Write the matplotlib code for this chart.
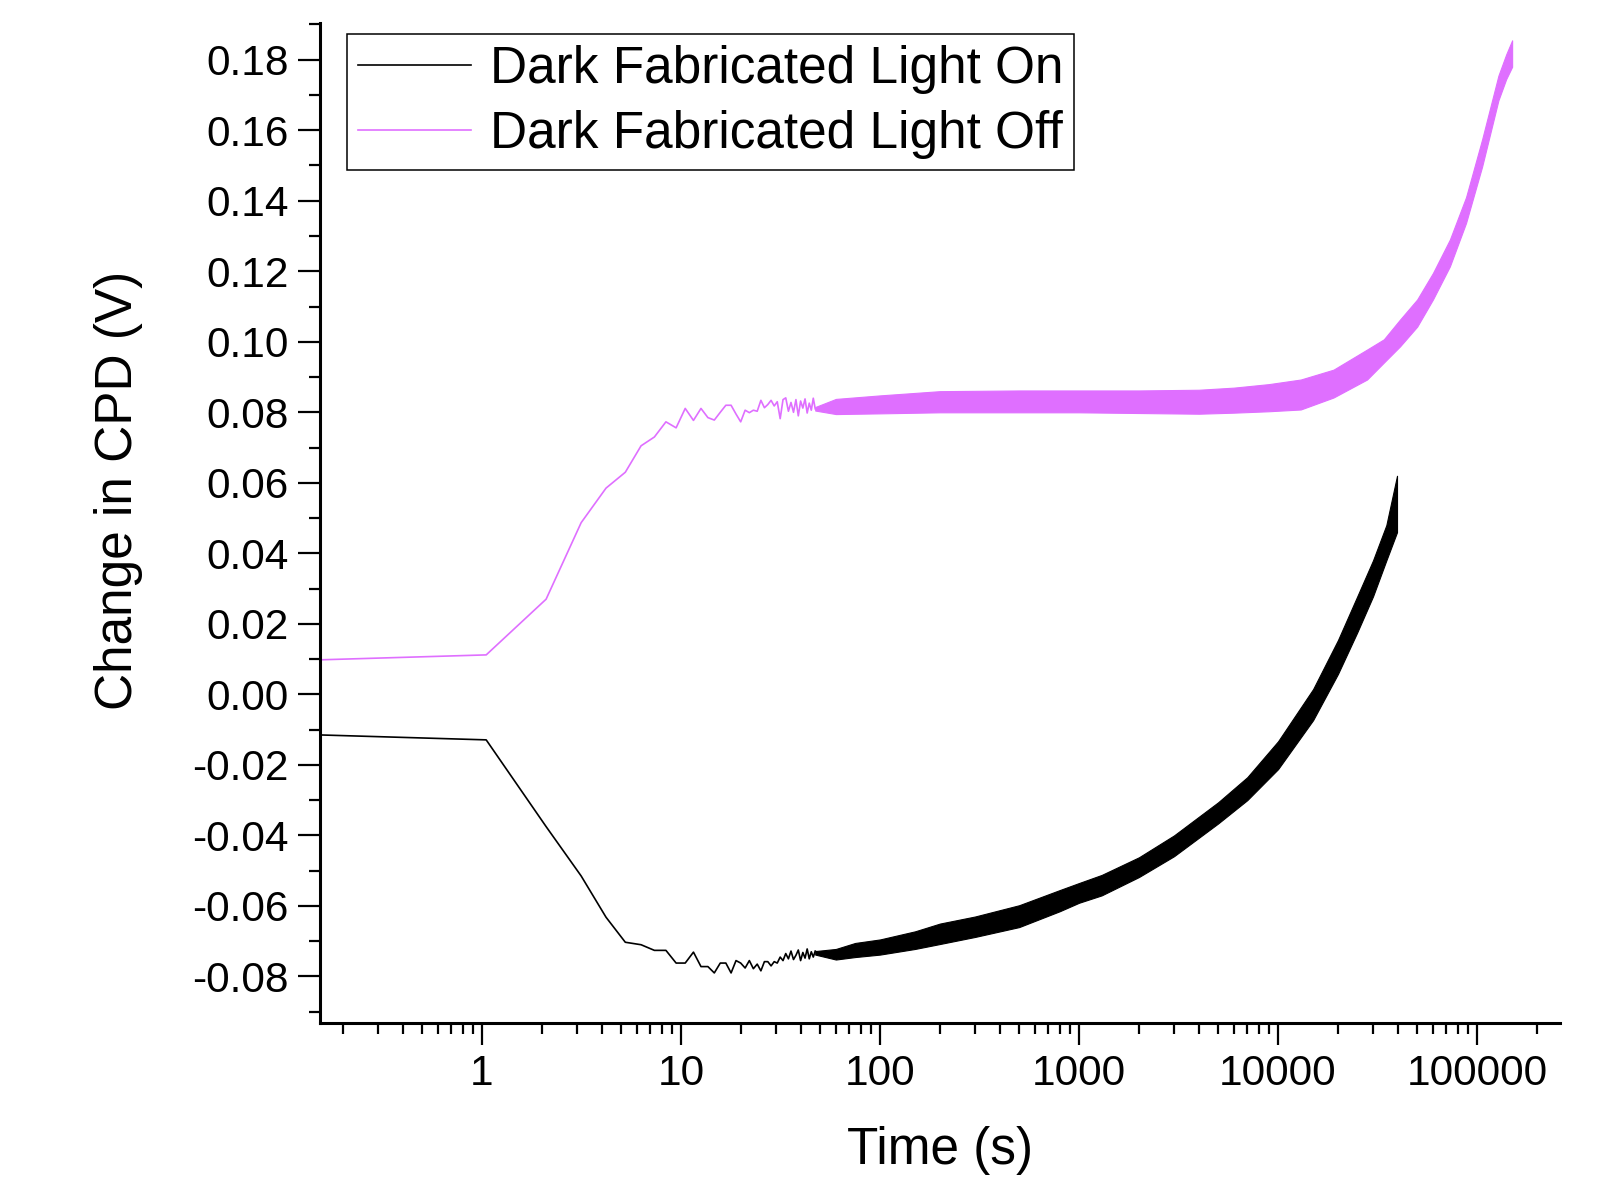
import matplotlib
matplotlib.use("Agg")
import matplotlib.pyplot as plt
from matplotlib.ticker import FixedLocator, MultipleLocator, FormatStrFormatter, LogLocator, NullFormatter, FuncFormatter

plt.rcParams['font.family'] = ['Liberation Sans', 'DejaVu Sans']

# ---------------- data ----------------
labels = ["Dark Fabricated Light On", "Dark Fabricated Light Off"]
colors = ["#000000", "#DF6FFF"]

# sparse early samples (s)
early_time = [0.1535, 1.05, 2.1, 3.15, 4.2, 5.25, 6.3, 7.35, 8.4, 9.45, 10.5,
              11.55, 12.6, 13.65, 14.7, 15.75, 16.8, 17.85, 18.9, 19.95, 21.0,
              22.05, 23.1, 24.15, 25.2, 26.25, 27.3, 28.35, 29.4, 30.45, 31.5,
              32.55, 33.6, 34.65, 35.7, 36.75, 37.8, 38.85, 39.9, 40.95, 42.0,
              43.05, 44.1, 45.15, 46.2, 47.25]

on_early = [-0.0115, -0.0129, -0.0375, -0.0515, -0.0632, -0.0703, -0.0710, -0.0726,
            -0.0726, -0.0762, -0.0762, -0.0731, -0.0772, -0.0772, -0.0790, -0.0762,
            -0.0762, -0.0790, -0.0755, -0.0762, -0.0776, -0.0755, -0.0778, -0.0765,
            -0.0784, -0.0758, -0.0758, -0.0770, -0.0758, -0.0762, -0.0745, -0.0755,
            -0.0735, -0.0750, -0.0728, -0.0752, -0.0740, -0.0725, -0.0755, -0.0732,
            -0.0748, -0.0722, -0.0750, -0.0730, -0.0745, -0.0728]

off_early = [0.0098, 0.0112, 0.0270, 0.0487, 0.0585, 0.0630, 0.0705, 0.0730, 0.0773,
             0.0756, 0.0811, 0.0777, 0.0811, 0.0785, 0.0778, 0.0800, 0.0820, 0.0820,
             0.0795, 0.0773, 0.0806, 0.0799, 0.0806, 0.0803, 0.0834, 0.0813, 0.0822,
             0.0834, 0.0818, 0.0830, 0.0782, 0.0836, 0.0841, 0.0803, 0.0828, 0.0800,
             0.0836, 0.0790, 0.0832, 0.0812, 0.0838, 0.0798, 0.0826, 0.0806, 0.0840,
             0.0810]

# dense noisy region: envelope (lower / upper)
on_band_time = [47.25, 60, 75, 100, 150, 200, 300, 500, 800, 1000, 1300, 2000, 3000,
                5000, 7000, 10000, 15000, 20000, 25000, 30000, 35000, 39600]
on_band_low = [-0.0738, -0.0752, -0.0745, -0.0738, -0.0722, -0.0708, -0.0688, -0.0660,
               -0.0615, -0.0591, -0.0570, -0.0518, -0.0459, -0.0366, -0.0300, -0.0212,
               -0.0073, 0.0058, 0.0176, 0.0278, 0.0380, 0.0460]
on_band_high = [-0.0728, -0.0722, -0.0705, -0.0695, -0.0672, -0.0650, -0.0630, -0.0598,
                -0.0555, -0.0535, -0.0512, -0.0462, -0.0400, -0.0306, -0.0235, -0.0133,
                0.0015, 0.0154, 0.0278, 0.0380, 0.0480, 0.0620]

off_band_time = [47.25, 60, 100, 200, 500, 1000, 2000, 4000, 6000, 9000, 13000, 19000,
                 28000, 34000, 41000, 50000, 60000, 73000, 88000, 106000, 128000,
                 140000, 150000]
off_band_low = [0.0805, 0.0795, 0.0797, 0.0800, 0.0800, 0.0800, 0.0798, 0.0796, 0.0799,
                0.0803, 0.0808, 0.0842, 0.0893, 0.0941, 0.0987, 0.1043, 0.1120, 0.1214,
                0.1337, 0.1497, 0.1685, 0.1745, 0.1780]
off_band_high = [0.0815, 0.0838, 0.0848, 0.0860, 0.0862, 0.0862, 0.0862, 0.0864, 0.0870,
                 0.0880, 0.0893, 0.0921, 0.0978, 0.1007, 0.1063, 0.1120, 0.1195, 0.1290,
                 0.1410, 0.1574, 0.1755, 0.1815, 0.1855]

x_tick_values = [1, 10, 100, 1000, 10000, 100000]
x_tick_labels = ["1", "10", "100", "1000", "10000", "100000"]

# ---------------- figure ----------------
W, H = 1615, 1178
fig = plt.figure(figsize=(W / 100, H / 100), dpi=100)
ax = fig.add_axes([320 / W, 1 - 1023 / H, (1560 - 320) / W, (1023 - 22.7) / H])

lw = 1.2
ax.plot(early_time, on_early, color=colors[0], lw=lw, label=labels[0])
ax.fill_between(on_band_time, on_band_low, on_band_high, color=colors[0], lw=0.8,
                edgecolor=colors[0])
ax.plot(early_time, off_early, color=colors[1], lw=lw, label=labels[1])
ax.fill_between(off_band_time, off_band_low, off_band_high, color=colors[1], lw=0.8,
                edgecolor=colors[1])

ax.set_xscale('log')
ax.set_xlim(0.1535, 261000)
ax.set_ylim(-0.0932, 0.1905)

for s in ['top', 'right']:
    ax.spines[s].set_visible(False)
for s in ['left', 'bottom']:
    ax.spines[s].set_linewidth(2.2)

ax.xaxis.set_major_locator(FixedLocator(x_tick_values))
ax.xaxis.set_major_formatter(FuncFormatter(
    lambda v, p: x_tick_labels[x_tick_values.index(int(round(v)))]
    if int(round(v)) in x_tick_values else ""))
ax.xaxis.set_minor_locator(LogLocator(base=10, subs=range(2, 10), numticks=100))
ax.xaxis.set_minor_formatter(NullFormatter())

ax.yaxis.set_major_locator(MultipleLocator(0.02))
ax.yaxis.set_minor_locator(MultipleLocator(0.01))
ax.yaxis.set_major_formatter(FormatStrFormatter('%.2f'))

ax.tick_params(which='major', direction='out', length=15.5, width=1.6, labelsize=30.5, pad=7)
ax.tick_params(which='minor', direction='out', length=8, width=1.6)

ax.set_xlabel("Time (s)", fontsize=37)
ax.set_ylabel("Change in CPD (V)", fontsize=37)
ax.xaxis.set_label_coords(0.5, -0.103)
ax.yaxis.set_label_coords(-0.143, 0.532)

leg = ax.legend(loc='upper left', bbox_to_anchor=(347 / W, 1 - 34 / H),
                bbox_transform=fig.transFigure, fontsize=37, frameon=True,
                fancybox=False, framealpha=1, edgecolor='black', borderpad=0.21,
                borderaxespad=0, handlelength=2.2, handletextpad=0.37,
                labelspacing=0.32)
leg.get_frame().set_linewidth(1.1)
for h in leg.get_lines():
    h.set_linewidth(1.2)

fig.savefig("out.png", dpi=100)
